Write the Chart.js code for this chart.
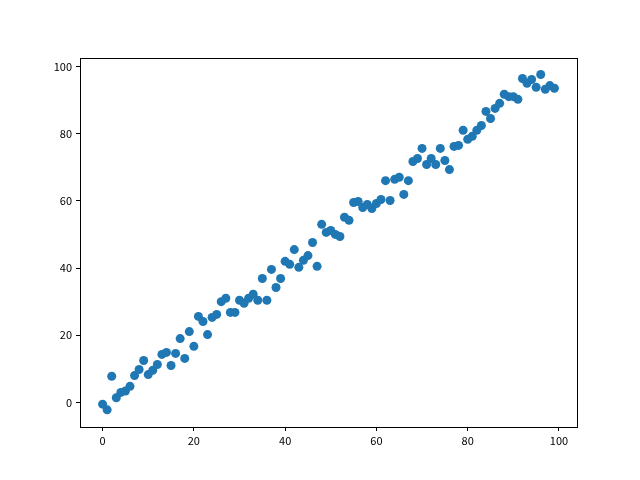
<!DOCTYPE html>
<html>
<head>
<meta charset="utf-8">
<script src="https://cdn.jsdelivr.net/npm/chart.js@4"></script>
<style>
  html, body { margin: 0; padding: 0; background: #fff; }
</style>
</head>
<body>
<canvas id="scatterChart" width="640" height="480"></canvas>
<script>
const xValues = Array.from({ length: 100 }, (_, i) => i)
const yValues = [
  -0.5, -2.2, 7.8, 1.4, 3.0, 3.4, 4.8, 8.0, 9.8, 12.5,
  8.3, 9.6, 11.3, 14.3, 14.9, 11.0, 14.6, 19.0, 13.1, 21.1,
  16.7, 25.6, 24.1, 20.2, 25.3, 26.2, 30.0, 31.0, 26.8, 26.8,
  30.4, 29.5, 31.0, 32.2, 30.4, 36.9, 30.4, 39.6, 34.2, 36.9,
  42.0, 41.1, 45.5, 40.2, 42.3, 43.7, 47.6, 40.5, 53.0, 50.6,
  51.2, 50.0, 49.4, 55.1, 54.2, 59.5, 59.8, 58.0, 58.9, 57.7,
  59.2, 60.4, 66.0, 60.1, 66.4, 67.0, 61.9, 66.0, 71.7, 72.6,
  75.6, 70.8, 72.6, 70.8, 75.6, 72.0, 69.3, 76.2, 76.5, 81.0,
  78.3, 79.2, 81.0, 82.4, 86.6, 84.5, 87.5, 89.0, 91.7, 91.0,
  91.0, 90.2, 96.4, 95.0, 96.1, 93.8, 97.6, 93.2, 94.3, 93.5
]
const xTicks = [0, 20, 40, 60, 80, 100]
const yTicks = [0, 20, 40, 60, 80, 100]

// draw the full box round the plot like matplotlib does
const frame = {
  id: 'frame',
  afterDraw(chart) {
    const { ctx, chartArea: a } = chart
    ctx.save()
    ctx.strokeStyle = '#000'
    ctx.lineWidth = 1
    ctx.strokeRect(a.left + 0.5, a.top + 0.5, a.right - a.left, a.bottom - a.top)
    ctx.restore()
  }
}

const tickFont = { family: 'Noto Sans CJK SC, DejaVu Sans', size: 11 }

const config = {
  type: 'scatter',
  data: {
    datasets: [{
      data: xValues.map((x, i) => ({ x: x, y: yValues[i] })),
      backgroundColor: '#1f77b4',
      borderWidth: 0,
      pointRadius: 4.5,
      pointHoverRadius: 4.5
    }]
  },
  options: {
    responsive: false,
    animation: false,
    layout: { padding: { left: 0, right: 63, top: 58, bottom: 0 } },
    plugins: { legend: { display: false }, tooltip: { enabled: false } },
    scales: {
      x: {
        type: 'linear',
        min: -4.95,
        max: 103.95,
        afterBuildTicks: scale => { scale.ticks = xTicks.map(v => ({ value: v })) },
        afterFit: scale => { scale.height = 53 },
        grid: { drawOnChartArea: false, color: '#000', tickLength: 4 },
        border: { display: false },
        ticks: { color: '#000', font: tickFont, padding: 3, maxRotation: 0 }
      },
      y: {
        min: -7.3,
        max: 102.5,
        afterBuildTicks: scale => { scale.ticks = yTicks.map(v => ({ value: v })) },
        afterFit: scale => { scale.width = 80 },
        grid: { drawOnChartArea: false, color: '#000', tickLength: 4 },
        border: { display: false },
        ticks: { color: '#000', font: tickFont, padding: 4 }
      }
    }
  },
  plugins: [frame]
}

new Chart(document.getElementById('scatterChart'), config)
</script>
</body>
</html>
